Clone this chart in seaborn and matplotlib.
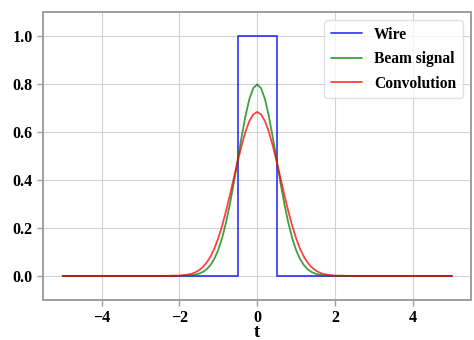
import numpy as np
import pandas as pd
import matplotlib
matplotlib.use("Agg")
import matplotlib.pyplot as plt
import seaborn as sns

# Wire (rectangular pulse)
wire_t = [-5.0, -0.5, -0.5, 0.5, 0.5, 5.0]
wire_y = [0.0, 0.0, 1.0, 1.0, 0.0, 0.0]

# Sample points for the smooth curves
curve_t = [-5.0] + [round(-2.5 + 0.1 * i, 1) for i in range(51)] + [5.0]

beam_y = [0.0,
          0.000, 0.000, 0.000, 0.000, 0.000, 0.000, 0.001, 0.001, 0.002, 0.005,
          0.009, 0.016, 0.027, 0.045, 0.071, 0.108, 0.158, 0.222, 0.299, 0.388,
          0.484, 0.579, 0.666, 0.737, 0.782, 0.798, 0.782, 0.737, 0.666, 0.579,
          0.484, 0.388, 0.299, 0.222, 0.158, 0.108, 0.071, 0.045, 0.027, 0.016,
          0.009, 0.005, 0.002, 0.001, 0.001, 0.000, 0.000, 0.000, 0.000, 0.000,
          0.000,
          0.0]

conv_y = [0.0,
          0.000, 0.000, 0.000, 0.001, 0.001, 0.001, 0.003, 0.005, 0.008, 0.014,
          0.023, 0.036, 0.055, 0.080, 0.114, 0.157, 0.209, 0.270, 0.337, 0.407,
          0.477, 0.543, 0.601, 0.645, 0.673, 0.683, 0.673, 0.645, 0.601, 0.543,
          0.477, 0.407, 0.337, 0.270, 0.209, 0.157, 0.114, 0.080, 0.055, 0.036,
          0.023, 0.014, 0.008, 0.005, 0.003, 0.001, 0.001, 0.001, 0.000, 0.000,
          0.000,
          0.0]

x_ticks = [-4, -2, 0, 2, 4]
y_ticks = [0.0, 0.2, 0.4, 0.6, 0.8, 1.0]

sns.set_style("whitegrid", {
    "axes.edgecolor": "0.62",
    "grid.color": "0.82",
    "xtick.bottom": True,
    "ytick.left": True,
    "xtick.color": "0.62",
    "ytick.color": "0.62",
    "text.color": "black",
})
plt.rcParams["font.family"] = ["Liberation Serif", "DejaVu Serif"]
plt.rcParams["font.weight"] = "bold"
plt.rcParams["axes.linewidth"] = 1.4

fig = plt.figure(figsize=(4.74, 3.40), dpi=100)
ax = fig.add_axes([0.091, 0.118, 0.903, 0.847])

wire_df = pd.DataFrame({"t": wire_t, "y": wire_y})
curves_df = pd.DataFrame({"t": curve_t, "beam": beam_y, "conv": conv_y})

sns.lineplot(data=wire_df, x="t", y="y", sort=False, estimator=None,
             color="blue", alpha=0.75, lw=1.3, label="Wire", ax=ax)
sns.lineplot(data=curves_df, x="t", y="beam", sort=False, estimator=None,
             color="green", alpha=0.75, lw=1.3, label="Beam signal", ax=ax)
sns.lineplot(data=curves_df, x="t", y="conv", sort=False, estimator=None,
             color="red", alpha=0.75, lw=1.3, label="Convolution", ax=ax)

ax.set_xlim(-5.5, 5.5)
ax.set_ylim(-0.1, 1.1)
ax.set_xticks(x_ticks)
ax.set_xticklabels(["\u22124", "\u22122", "0", "2", "4"])
ax.set_yticks(y_ticks)
ax.set_yticklabels([f"{v:.1f}" for v in y_ticks])
ax.tick_params(axis="both", labelsize=11.5, labelcolor="black", length=4, width=1.0)
ax.tick_params(axis="x", pad=3)
for lab in ax.get_xticklabels() + ax.get_yticklabels():
    lab.set_fontweight("bold")
ax.set_xlabel("t", fontsize=13.5, fontweight="bold", color="black", labelpad=-1)
ax.set_ylabel("")

leg = ax.legend(loc="upper right", frameon=True, borderaxespad=0.55,
                prop={"weight": "bold", "size": 11.2}, handlelength=2.0,
                labelspacing=0.55)
leg.get_frame().set_edgecolor("0.85")
for txt in leg.get_texts():
    txt.set_color("black")

fig.savefig("out.png", dpi=100)
